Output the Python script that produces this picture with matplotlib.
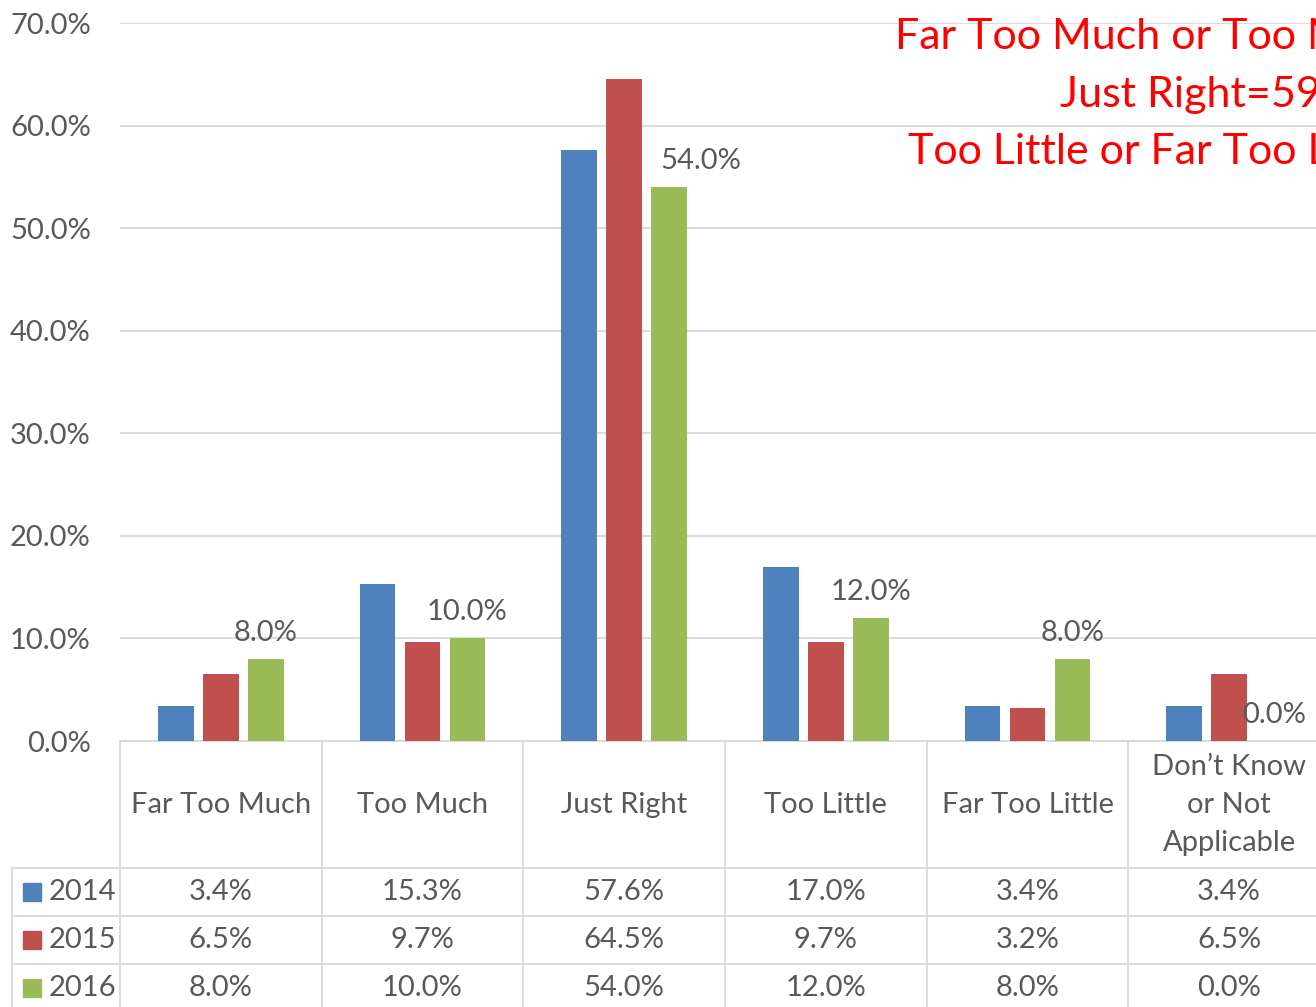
import numpy as np
import matplotlib.pyplot as plt
from matplotlib.patches import Rectangle
from matplotlib.transforms import blended_transform_factory

categories = ['Far Too Much', 'Too Much', 'Just Right', 'Too Little',
              'Far Too Little', 'Don\u2019t Know\nor Not\nApplicable']
years = ['2014', '2015', '2016']
v2014 = [3.4, 15.3, 57.6, 17.0, 3.4, 3.4]
v2015 = [6.5, 9.7, 64.5, 9.7, 3.2, 6.5]
v2016 = [8.0, 10.0, 54.0, 12.0, 8.0, 0.0]
colors = ['#4F81BD', '#C0504D', '#9BBB59']
note_lines = ['Far Too Much or Too Much', 'Just Right=59', 'Too Little or Far Too Little']

plt.rcParams['font.family'] = ['Lato', 'DejaVu Sans']
grey = '#595959'
line_c = '#d9d9d9'
fs = 21

W, H = 1316, 1007
fig = plt.figure(figsize=(W / 100, H / 100), dpi=100)
# plot area in pixels: x 120..1330, y 23..741
ax = fig.add_axes([120 / W, (H - 741) / H, 1210 / W, 718 / H])

series = [v2014, v2015, v2016]
x = np.arange(len(categories))
off = 0.223
bw = 0.178
for i, vals in enumerate(series):
    ax.bar(x + (i - 1) * off, np.array(vals) / 100, bw, color=colors[i], zorder=3)

# data labels for 2016 only
for j, v in enumerate(v2016):
    dx = 32 if j == 2 else 0
    ax.annotate(f'{v:.1f}%', (x[j] + off, v / 100), xytext=(dx, 13),
                textcoords='offset pixels', ha='center', va='bottom',
                fontsize=fs, color=grey, zorder=4)

ax.set_xlim(-0.5, 5.5)
ax.set_ylim(0, 0.7)
ax.set_yticks(np.arange(0, 0.71, 0.1))
ax.set_yticklabels([f'{t * 100:.1f}%' for t in np.arange(0, 0.71, 0.1)],
                   fontsize=fs, color=grey)
ax.tick_params(axis='y', length=0, pad=21)
ax.tick_params(axis='x', length=0, labelbottom=False)
ax.grid(axis='y', color=line_c, linewidth=1.3, zorder=0)
for s in ['top', 'right', 'left']:
    ax.spines[s].set_visible(False)
ax.spines['bottom'].set_color(line_c)
ax.spines['bottom'].set_linewidth(1.3)

# data table under the plot
tr = blended_transform_factory(ax.transData, ax.transAxes)


def ay(py):
    return (741 - py) / 718


x_left = -0.5 - 108 / 201.6
rows = [868, 916, 964, 1012]
for py in rows[:-1]:
    ax.plot([x_left, 5.5], [ay(py), ay(py)], transform=tr, color=line_c,
            lw=1.3, clip_on=False)
for b in np.arange(-0.5, 5.6, 1):
    ax.plot([b, b], [0, ay(1012)], transform=tr, color=line_c, lw=1.3, clip_on=False)
ax.plot([x_left, x_left], [ay(868), ay(1012)], transform=tr, color=line_c,
        lw=1.3, clip_on=False)

for j, c in enumerate(categories):
    ax.text(x[j], ay(805), c, transform=tr, ha='center', va='center',
            fontsize=fs, color=grey, linespacing=1.58)

for i, vals in enumerate(series):
    yc = ay(rows[i] + 24)
    ax.add_patch(Rectangle((x_left + 11 / 201.6, yc - 9 / 718), 18 / 201.6, 18 / 718,
                           transform=tr, color=colors[i], clip_on=False))
    ax.text(x_left + 37 / 201.6, yc, years[i], transform=tr, ha='left', va='center',
            fontsize=fs, color=grey)
    for j, v in enumerate(vals):
        ax.text(x[j], yc, f'{v:.1f}%', transform=tr, ha='center', va='center',
                fontsize=fs, color=grey)

# red annotation, cut off at the right edge like the original
note_x = [895, 1060, 908]
note_y = [37, 95, 152]
for t, nx, ny in zip(note_lines, note_x, note_y):
    fig.text(nx / W, 1 - ny / H, t, ha='left', va='center', fontsize=31, color='#FF0000')

fig.savefig('out.png', dpi=100)
